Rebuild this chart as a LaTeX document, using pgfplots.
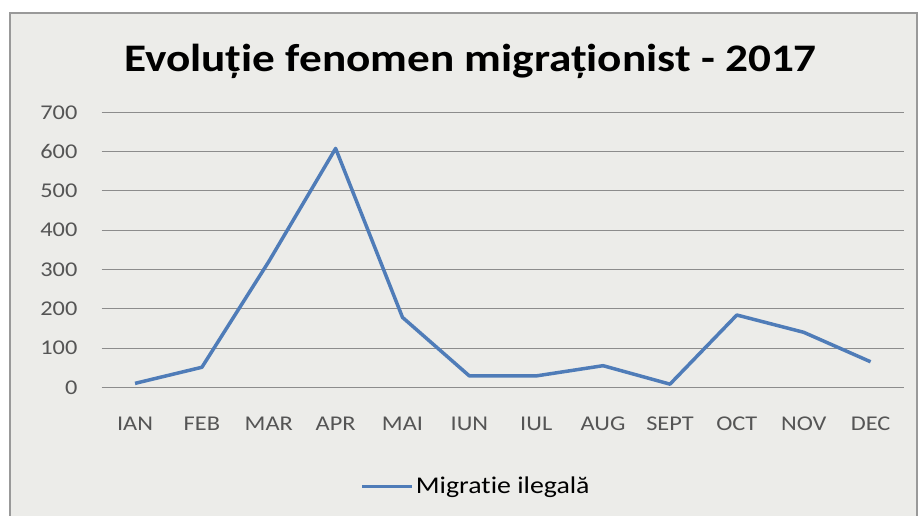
\documentclass[border=0pt]{standalone}
\usepackage{fontspec}
\setmainfont{Carlito}[FakeStretch=1.16, RawFeature=-liga]
\usepackage{pgfplots}
\pgfplotsset{compat=1.18}
\definecolor{bgc}{RGB}{236,236,233}
\definecolor{linec}{RGB}{79,124,184}
\definecolor{gridc}{RGB}{140,140,140}
\definecolor{tickc}{RGB}{85,85,85}
\begin{document}
\begin{tikzpicture}[x=1pt,y=1pt]
\useasboundingbox (0,0) rectangle (919,515);
\fill[white] (0,0) rectangle (919,515);
\fill[bgc] (10,-5) rectangle (917,502);
\draw[gray!80, line width=1.5pt] (10,-5) -- (10,502) -- (917,502) -- (917,-5);
\node[anchor=base, font=\fontsize{39}{44}\selectfont\bfseries, inner sep=0pt] at (470.5,443.3) {Evoluție fenomen migraționist - 2017};
\begin{axis}[
  at={(101.6pt,127.7pt)}, anchor=south west,
  scale only axis, width=802.4pt, height=275pt,
  xmin=-0.5, xmax=11.5, ymin=0, ymax=700,
  ytick={0,100,...,700},
  xtick={0,...,11},
  xticklabels={IAN,FEB,MAR,APR,MAI,IUN,IUL,AUG,SEPT,OCT,NOV,DEC},
  axis line style={draw=none},
  tick style={draw=none},
  ymajorgrids, grid style={gridc, line width=1pt},
  /pgf/number format/assume math mode=true,
  ticklabel style={font=\fontsize{21}{24}\selectfont, text=tickc},
  yticklabel style={anchor=east, inner sep=0pt, xshift=-24pt},
  xticklabel style={anchor=base, inner sep=0pt, yshift=-43.4pt},
  legend style={at={(0.4666,-0.36)}, anchor=center, draw=none, fill=none,
    font=\fontsize{24}{27}\selectfont, legend columns=1,
    /tikz/every even column/.append style={column sep=0pt}},
  legend cell align=left,
  legend image code/.code={\draw[#1, line width=3.5pt] (0pt,0pt) -- (50pt,0pt);},
]
\addplot[linec, line width=3.5pt, line join=round, mark=none] coordinates {
(0,10) (1,51) (2,320) (3,608) (4,178) (5,29) (6,29) (7,55) (8,8) (9,184) (10,140) (11,65)
};
\addlegendentry{Migratie ilegală}
\end{axis}
\end{tikzpicture}
\end{document}
